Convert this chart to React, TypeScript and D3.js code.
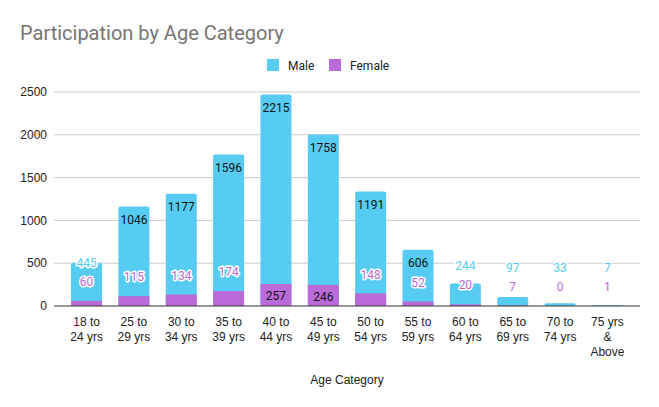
import React from 'react';
import * as d3 from 'd3';

const categories = ['18 to|24 yrs', '25 to|29 yrs', '30 to|34 yrs', '35 to|39 yrs', '40 to|44 yrs', '45 to|49 yrs', '50 to|54 yrs', '55 to|59 yrs', '60 to|64 yrs', '65 to|69 yrs', '70 to|74 yrs', '75 yrs|&|Above'];
const male = [445, 1046, 1177, 1596, 2215, 1758, 1191, 606, 244, 97, 33, 7];
const female = [60, 115, 134, 174, 257, 246, 148, 52, 20, 7, 0, 1];
const yTicks = [0, 500, 1000, 1500, 2000, 2500];

const MALE = '#56ccf2';
const FEMALE = '#bb6bd9';
const W = 659;
const H = 407;

export default function App() {
  const x = d3.scaleBand<number>()
    .domain(d3.range(categories.length))
    .range([54, 640])
    .paddingInner(0.345)
    .paddingOuter(0.36);
  const y = d3.scaleLinear().domain([0, 2500]).range([306, 92]);
  const bw = x.bandwidth();

  // work out where each data label sits (inside the segment or above it)
  const labels = categories.map((_, i) => {
    const cx = (x(i) || 0) + bw / 2;
    const topF = y(female[i]);
    const topM = y(female[i] + male[i]);
    const hF = y(0) - topF;
    const hM = topF - topM;
    const fInside = hF >= 18;
    const fy = fInside ? topF + 12 : topF - 19;
    let mInside = hM >= 18;
    let my = topM + 13;
    const limit = fInside ? topF - 6 : fy - 18;
    if (!mInside || my > limit) {
      mInside = false;
      my = fy - 19;
    }
    return { cx, fInside, fy, mInside, my, i };
  });

  const font = 'Roboto, "Liberation Sans", Arial, sans-serif';
  const axisFont = '"Liberation Sans", Arial, sans-serif';

  return (
    <svg width={W} height={H} style={{ position: 'absolute', left: 0, top: 0, background: '#fff' }}>
      <text x={20} y={40} fontFamily={font} fontSize={20} fill="#757575">Participation by Age Category</text>

      {/* legend */}
      <g fontFamily={font} fontSize={12} fill="#222">
        <rect x={267} y={59} width={12} height={12} fill={MALE} />
        <text x={288} y={69.5}>Male</text>
        <rect x={329} y={59} width={12} height={12} fill={FEMALE} />
        <text x={350} y={69.5}>Female</text>
      </g>

      {/* grid and y ticks */}
      {yTicks.map(t => (
        <g key={t}>
          {t !== 0 && <line x1={54} x2={640} y1={y(t)} y2={y(t)} stroke="#cccccc" strokeWidth={1} />}
          <text x={47} y={y(t)} dy="0.35em" textAnchor="end" fontFamily={axisFont} fontSize={12} fill="#222">{t}</text>
        </g>
      ))}

      {/* bars */}
      {categories.map((_, i) => (
        <g key={i}>
          <rect x={x(i)} y={y(female[i] + male[i])} width={bw} height={y(0) - y(female[i] + male[i])} rx={2} fill={MALE} />
          <rect x={x(i)} y={y(female[i])} width={bw} height={y(0) - y(female[i])} fill={FEMALE} />
        </g>
      ))}

      <line x1={54} x2={640} y1={y(0)} y2={y(0)} stroke="#333" strokeWidth={1} />

      {/* data labels */}
      <g fontFamily={font} fontSize={12} textAnchor="middle">
        {labels.map(l => (
          <g key={l.i}>
            <text x={l.cx} y={l.fy} dy="0.35em"
              fill={l.fInside ? '#111' : FEMALE}
              stroke={l.fInside ? 'none' : '#fff'} strokeWidth={3} paintOrder="stroke"
              strokeLinejoin="round">{female[l.i]}</text>
            <text x={l.cx} y={l.my} dy="0.35em"
              fill={l.mInside ? '#111' : MALE}
              stroke={l.mInside ? 'none' : '#fff'} strokeWidth={3} paintOrder="stroke"
              strokeLinejoin="round">{male[l.i]}</text>
          </g>
        ))}
      </g>

      {/* x labels */}
      <g fontFamily={axisFont} fontSize={12} fill="#222" textAnchor="middle">
        {categories.map((c, i) => (
          <text key={i} x={(x(i) || 0) + bw / 2} y={326}>
            {c.split('|').map((s, k) => (
              <tspan key={k} x={(x(i) || 0) + bw / 2} dy={k === 0 ? 0 : 15}>{s}</tspan>
            ))}
          </text>
        ))}
      </g>

      <text x={347} y={384} textAnchor="middle" fontFamily={axisFont} fontSize={12} fill="#222">Age Category</text>
    </svg>
  );
}
